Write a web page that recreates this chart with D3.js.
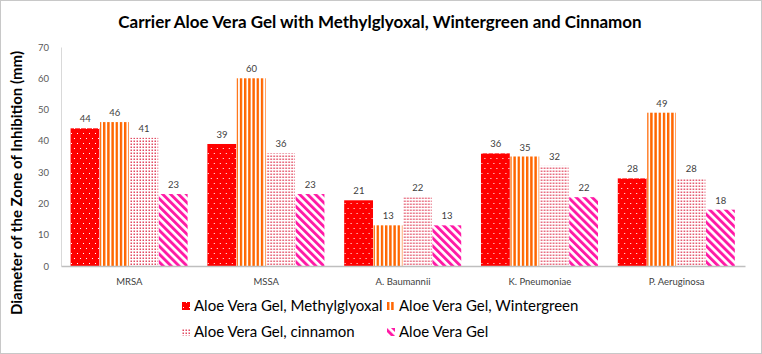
<!DOCTYPE html>
<html>
<head>
<meta charset="utf-8">
<script src="https://cdn.jsdelivr.net/npm/d3@7"></script>
<style>
  body { margin: 0; background: #fff; }
  svg text { font-family: Lato, "Open Sans", sans-serif; }
</style>
</head>
<body>
<div id="chart"></div>
<script>
const categories = ["MRSA", "MSSA", "A. Baumannii", "K. Pneumoniae", "P. Aeruginosa"];
const seriesNames = [
  "Aloe Vera Gel, Methylglyoxal",
  "Aloe Vera Gel, Wintergreen",
  "Aloe Vera Gel, cinnamon",
  "Aloe Vera Gel"
];
const methylglyoxal = [44, 39, 21, 36, 28];
const wintergreen = [46, 60, 13, 35, 49];
const cinnamon = [41, 36, 22, 32, 28];
const aloeOnly = [23, 23, 13, 22, 18];
const yTicks = [0, 10, 20, 30, 40, 50, 60, 70];

const seriesValues = [methylglyoxal, wintergreen, cinnamon, aloeOnly];
const patternIds = ["pat-dots", "pat-vert", "pat-fine", "pat-diag"];

const width = 762;
const height = 354;
const margin = { top: 47, right: 17, bottom: 88, left: 61 };

const svg = d3.select("#chart")
  .append("svg")
  .attr("width", width)
  .attr("height", height);

// patterns
const defs = svg.append("defs");

const dots = defs.append("pattern").attr("id", "pat-dots")
  .attr("patternUnits", "userSpaceOnUse").attr("width", 6).attr("height", 10);
dots.append("rect").attr("width", 6).attr("height", 10).attr("fill", "#ff0000");
dots.append("rect").attr("x", 1).attr("y", 1).attr("width", 1).attr("height", 1).attr("fill", "#fff");
dots.append("rect").attr("x", 4).attr("y", 6).attr("width", 1).attr("height", 1).attr("fill", "#fff");

const vert = defs.append("pattern").attr("id", "pat-vert")
  .attr("patternUnits", "userSpaceOnUse").attr("width", 4.2).attr("height", 4);
vert.append("rect").attr("width", 4.2).attr("height", 4).attr("fill", "#fff");
vert.append("rect").attr("width", 2.4).attr("height", 4).attr("fill", "#ff6600");

const fine = defs.append("pattern").attr("id", "pat-fine")
  .attr("patternUnits", "userSpaceOnUse").attr("width", 3).attr("height", 3);
fine.append("rect").attr("width", 3).attr("height", 3).attr("fill", "#fff");
fine.append("rect").attr("x", 0.5).attr("y", 0.5).attr("width", 1.5).attr("height", 1.5).attr("fill", "#e24a62");

const diag = defs.append("pattern").attr("id", "pat-diag")
  .attr("patternUnits", "userSpaceOnUse").attr("width", 5.6).attr("height", 10)
  .attr("patternTransform", "rotate(-45)");
diag.append("rect").attr("width", 5.6).attr("height", 10).attr("fill", "#fff");
diag.append("rect").attr("width", 2.9).attr("height", 10).attr("fill", "#ff1aa6");

// chart border
svg.append("rect")
  .attr("x", 0.5).attr("y", 0.5)
  .attr("width", width - 1).attr("height", height - 1)
  .attr("fill", "none").attr("stroke", "#c8c8c8");

const innerW = width - margin.left - margin.right;
const innerH = height - margin.top - margin.bottom;

const g = svg.append("g").attr("transform", `translate(${margin.left},${margin.top})`);

const x0 = d3.scaleBand().domain(categories).range([0, innerW]).padding(0);
const x1 = d3.scaleBand().domain(d3.range(seriesNames.length))
  .range([x0.bandwidth() * 0.07, x0.bandwidth() * 0.93]).padding(0);
const y = d3.scaleLinear().domain([0, 70]).range([innerH, 0]);

// y axis
const yAxis = g.append("g")
  .call(d3.axisLeft(y).tickValues(yTicks).tickSize(0).tickPadding(12));
yAxis.select(".domain").attr("stroke", "#d9d9d9");
yAxis.selectAll("text").attr("fill", "#595959").style("font-size", "9.5px");

// bars
const groups = g.selectAll(".grp")
  .data(categories)
  .join("g")
  .attr("class", "grp")
  .attr("transform", (d) => `translate(${x0(d)},0)`);

groups.selectAll("rect")
  .data((d, i) => seriesValues.map((vals, s) => ({ s, v: vals[i] })))
  .join("rect")
  .attr("x", (d) => x1(d.s))
  .attr("width", x1.bandwidth() - 0.6)
  .attr("y", (d) => y(d.v))
  .attr("height", (d) => y(0) - y(d.v))
  .attr("fill", (d) => `url(#${patternIds[d.s]})`);

groups.selectAll("text.lbl")
  .data((d, i) => seriesValues.map((vals, s) => ({ s, v: vals[i] })))
  .join("text")
  .attr("class", "lbl")
  .attr("x", (d) => x1(d.s) + x1.bandwidth() / 2)
  .attr("y", (d) => y(d.v) - 6)
  .attr("text-anchor", "middle")
  .attr("fill", "#404040")
  .style("font-size", "9.5px")
  .text((d) => d.v);

// x axis
const xAxis = g.append("g")
  .attr("transform", `translate(0,${innerH})`)
  .call(d3.axisBottom(x0).tickSize(0).tickPadding(12));
xAxis.select(".domain").attr("stroke", "#bfbfbf").attr("stroke-width", 1.5);
xAxis.selectAll("text").attr("fill", "#404040").style("font-size", "9.5px");

// titles
svg.append("text")
  .attr("x", 380)
  .attr("y", 28)
  .attr("text-anchor", "middle")
  .style("font-size", "17px")
  .style("font-weight", "bold")
  .attr("fill", "#000")
  .text("Carrier Aloe Vera Gel with Methylglyoxal, Wintergreen and Cinnamon");

svg.append("text")
  .attr("transform", "rotate(-90)")
  .attr("x", -183)
  .attr("y", 22)
  .attr("text-anchor", "middle")
  .style("font-size", "15px")
  .style("font-weight", "bold")
  .attr("fill", "#000")
  .text("Diameter of the Zone of Inhibition (mm)");

// legend
const legendPos = [[182, 306], [387, 306], [182, 332], [387, 332]];
const legend = svg.selectAll(".leg")
  .data(seriesNames)
  .join("g")
  .attr("class", "leg")
  .attr("transform", (d, i) => `translate(${legendPos[i][0]},${legendPos[i][1]})`);

legend.append("rect")
  .attr("x", 0).attr("y", -4)
  .attr("width", 8).attr("height", 8)
  .attr("fill", (d, i) => `url(#${patternIds[i]})`);

legend.append("text")
  .attr("x", 12)
  .attr("y", 5)
  .style("font-size", "15px")
  .attr("fill", "#000")
  .text((d) => d);
</script>
</body>
</html>
